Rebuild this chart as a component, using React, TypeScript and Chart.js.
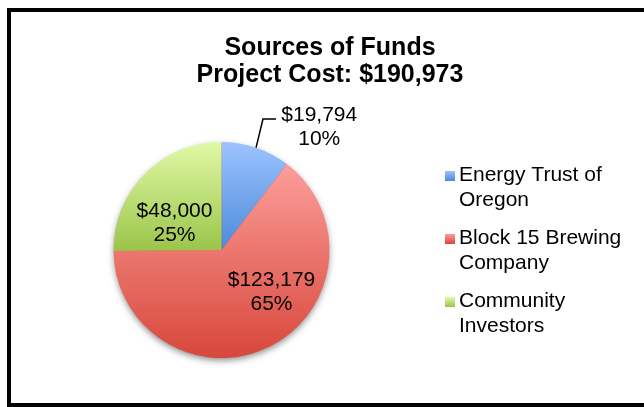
import React, { useEffect, useRef } from "react";
import { Chart, registerables } from "chart.js";

Chart.register(...registerables);

const titleLines = ["Sources of Funds", "Project Cost: $190,973"];
const categories = ["Energy Trust of Oregon", "Block 15 Brewing Company", "Community Investors"];
const values = [19794, 123179, 48000];
const valueLabels = ["$19,794", "$123,179", "$48,000"];
const percentLabels = ["10%", "65%", "25%"];

// styling (not data)
const gradientStops: [string, string][] = [
  ["#9DC3FF", "#4B8AD9"],
  ["#FC9E9A", "#D8473B"],
  ["#E0FAA6", "#9BC44A"],
];
// label first-baseline anchors, in units of radius from the pie centre
const labelAnchors: [number, number][] = [
  [0.905, -1.19],
  [0.463, 0.333],
  [-0.435, -0.31],
];
const FONT = "'Liberation Sans', Arial, Helvetica, sans-serif";

function pieGeometry(chart: any) {
  const a = chart.chartArea;
  const cx = (a.left + a.right) / 2;
  const cy = (a.top + a.bottom) / 2;
  const r = Math.min(a.right - a.left, a.bottom - a.top) / 2;
  return { cx, cy, r };
}

function sliceAngles(i: number) {
  const total = values.reduce((s, v) => s + v, 0);
  let start = 0;
  for (let j = 0; j < i; j++) start += values[j];
  const a0 = (start / total) * Math.PI * 2;
  const a1 = ((start + values[i]) / total) * Math.PI * 2;
  return { a0, a1 };
}

function sliceGradient(ctx: any) {
  const i = ctx.dataIndex ?? 0;
  const chart = ctx.chart;
  const stops = gradientStops[i % gradientStops.length];
  if (!chart.chartArea) return stops[1];
  const { cx, cy, r } = pieGeometry(chart);
  const { a0, a1 } = sliceAngles(i);
  const ys = [cy, cy - r * Math.cos(a0), cy - r * Math.cos(a1)];
  if (a0 < 1e-9 || a1 > Math.PI * 2 - 1e-9) ys.push(cy - r);
  if (a0 <= Math.PI && a1 >= Math.PI) ys.push(cy + r);
  const top = Math.min(...ys);
  const bottom = Math.max(...ys);
  const g = chart.ctx.createLinearGradient(0, top, 0, bottom);
  g.addColorStop(0, stops[0]);
  g.addColorStop(1, stops[1]);
  return g;
}

function wrapText(ctx: CanvasRenderingContext2D, text: string, maxW: number) {
  const words = text.split(" ");
  const lines: string[] = [];
  let cur = "";
  for (const w of words) {
    const t = cur ? cur + " " + w : w;
    if (ctx.measureText(t).width > maxW && cur) {
      lines.push(cur);
      cur = w;
    } else cur = t;
  }
  if (cur) lines.push(cur);
  return lines;
}

const decorPlugin = {
  id: "decor",
  beforeDatasetsDraw(chart: any) {
    const ctx: CanvasRenderingContext2D = chart.ctx;
    const { cx, cy, r } = pieGeometry(chart);
    ctx.save();
    ctx.shadowColor = "rgba(0,0,0,0.5)";
    ctx.shadowBlur = 7;
    ctx.shadowOffsetY = 3;
    ctx.fillStyle = "#d9473b";
    ctx.beginPath();
    ctx.arc(cx, cy, r - 1, 0, Math.PI * 2);
    ctx.fill();
    ctx.restore();
  },
  afterDraw(chart: any) {
    const ctx: CanvasRenderingContext2D = chart.ctx;
    const { cx, cy, r } = pieGeometry(chart);
    ctx.save();
    // frame
    ctx.strokeStyle = "#000";
    ctx.lineWidth = 4;
    ctx.strokeRect(9, 10, 700, 395);

    // title
    ctx.fillStyle = "#000";
    ctx.textAlign = "center";
    ctx.textBaseline = "alphabetic";
    ctx.font = `bold 25px ${FONT}`;
    ctx.fillText(titleLines[0], 330, 55);
    ctx.fillText(titleLines[1], 330, 82);

    // data labels
    ctx.font = `21px ${FONT}`;
    values.forEach((_, i) => {
      const [ox, oy] = labelAnchors[i];
      const x = cx + ox * r;
      const y = cy + oy * r;
      ctx.fillText(valueLabels[i], x, y);
      ctx.fillText(percentLabels[i], x, y + 24);
    });

    // leader line for small slice
    const { a0, a1 } = sliceAngles(0);
    const mid = (a0 + a1) / 2;
    ctx.beginPath();
    ctx.lineWidth = 1.5;
    ctx.moveTo(cx + r * Math.sin(mid), cy - r * Math.cos(mid));
    ctx.lineTo(cx + 0.384 * r, cy - 1.213 * r);
    ctx.lineTo(cx + 0.505 * r, cy - 1.213 * r);
    ctx.stroke();

    // legend
    ctx.textAlign = "left";
    ctx.font = `21px ${FONT}`;
    const lx = 459;
    let by = 181;
    categories.forEach((cat, i) => {
      const lines = wrapText(ctx, cat, 170);
      const g = ctx.createLinearGradient(0, by - 10, 0, by);
      g.addColorStop(0, gradientStops[i][0]);
      g.addColorStop(1, gradientStops[i][1]);
      ctx.fillStyle = g;
      ctx.fillRect(445, by - 10, 10, 10);
      ctx.fillStyle = "#000";
      lines.forEach((ln, k) => ctx.fillText(ln, lx, by + k * 25));
      by += 63;
    });
    ctx.restore();
  },
};

export default function App() {
  const ref = useRef<HTMLCanvasElement>(null);
  useEffect(() => {
    if (!ref.current) return;
    const chart = new Chart(ref.current, {
      type: "pie",
      data: {
        labels: categories,
        datasets: [
          {
            data: values,
            backgroundColor: sliceGradient as any,
            borderWidth: 0,
          },
        ],
      },
      options: {
        responsive: false,
        animation: false,
        devicePixelRatio: 1,
        layout: { padding: { left: 113.5, right: 314.5, top: 142, bottom: 49 } },
        plugins: {
          legend: { display: false },
          title: { display: false },
          tooltip: { enabled: false },
        },
      },
      plugins: [decorPlugin],
    });
    return () => chart.destroy();
  }, []);
  return (
    <div style={{ position: "absolute", left: 0, top: 0, width: 644, height: 407, background: "#fff" }}>
      <canvas ref={ref} width={644} height={407} style={{ display: "block" }} />
    </div>
  );
}
